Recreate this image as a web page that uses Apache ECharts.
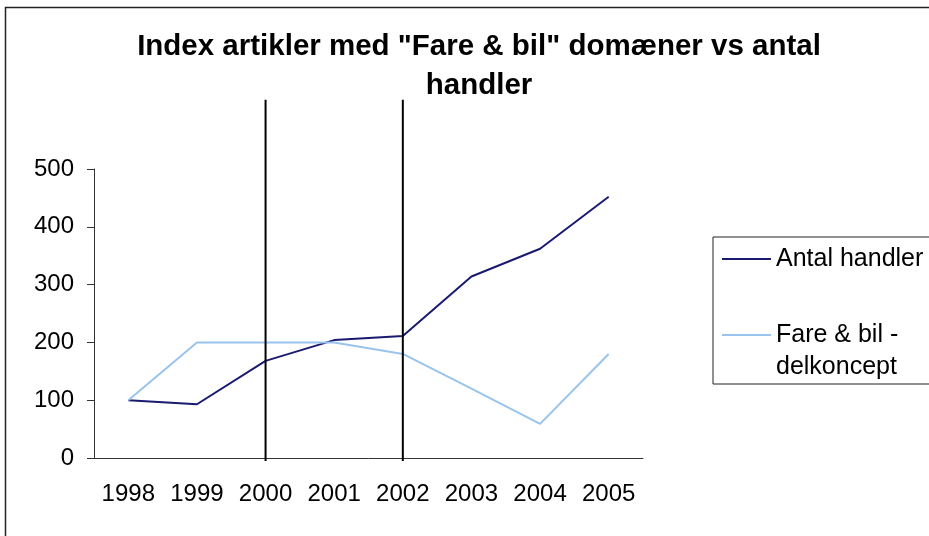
<!DOCTYPE html>
<html>
<head>
<meta charset="utf-8">
<script src="https://cdn.jsdelivr.net/npm/echarts@6/dist/echarts.min.js"></script>
<style>
  html, body { margin: 0; padding: 0; background: #fff; }
  #chart { width: 929px; height: 536px; }
</style>
</head>
<body>
<div id="chart"></div>
<script>
const years = ['1998', '1999', '2000', '2001', '2002', '2003', '2004', '2005']
const antalHandler = [100, 93, 168, 204, 211, 314, 362, 452]
const fareBil = [100, 200, 200, 200, 180, 120, 59, 180]
const yTicks = { min: 0, max: 500, interval: 100 }
// vertical marker lines, they run past the top of the value axis
const markYears = ['2000', '2002']
const markRange = [-5, 620]

const font = "'Liberation Sans', Arial, sans-serif"
const fareName = 'Fare & bil -\ndelkoncept'
const chart = echarts.init(document.getElementById('chart'))

const option = {
  animation: false,
  backgroundColor: '#fff',
  title: {
    text: 'Index artikler med "Fare & bil" domæner vs antal\nhandler',
    left: 474,
    top: 22,
    textAlign: 'center',
    textStyle: { fontFamily: font, fontSize: 29.5, fontWeight: 'bold', color: '#000', lineHeight: 39 }
  },
  legend: {
    orient: 'vertical',
    left: 713,
    top: 237,
    padding: [7, 9, 1, 9],
    itemGap: 13,
    itemWidth: 49,
    itemHeight: 2,
    icon: 'rect',
    borderColor: '#222',
    borderWidth: 1,
    textStyle: { fontFamily: font, fontSize: 25, color: '#000', lineHeight: 30 },
    // blank first line keeps the icon level with "Fare & bil -"
    formatter: name => (name === fareName ? '\n' + name : name),
    data: [
      { name: 'Antal handler' },
      { name: fareName, textStyle: { lineHeight: 32 } }
    ]
  },
  grid: { left: 94, right: 286, top: 169, bottom: 78 },
  xAxis: {
    type: 'category',
    data: years,
    boundaryGap: true,
    axisLine: { lineStyle: { color: '#333', width: 1 } },
    axisTick: { length: 7, lineStyle: { color: '#333' } },
    axisLabel: { fontFamily: font, fontSize: 24, color: '#000', margin: 24, interval: 0 }
  },
  yAxis: {
    type: 'value',
    min: yTicks.min,
    max: yTicks.max,
    interval: yTicks.interval,
    splitLine: { show: false },
    axisLine: { show: true, lineStyle: { color: '#333', width: 1 } },
    axisTick: { show: true, length: 7, lineStyle: { color: '#333' } },
    axisLabel: { fontFamily: font, fontSize: 24, color: '#000', margin: 20 }
  },
  series: [
    {
      name: 'Antal handler',
      type: 'line',
      data: antalHandler,
      symbol: 'none',
      lineStyle: { color: '#1a1a70', width: 2 },
      itemStyle: { color: '#1a1a70' }
    },
    {
      name: fareName,
      type: 'line',
      data: fareBil,
      symbol: 'none',
      lineStyle: { color: '#99c4ee', width: 2 },
      itemStyle: { color: '#99c4ee' }
    }
  ]
}

chart.setOption(option)

// outer frame plus the two vertical lines, placed through the chart's own scales
function drawExtras() {
  const lines = markYears.map(y => {
    const p0 = chart.convertToPixel({ gridIndex: 0 }, [y, markRange[0]])
    const p1 = chart.convertToPixel({ gridIndex: 0 }, [y, markRange[1]])
    return {
      type: 'line',
      silent: true,
      z: 10,
      shape: { x1: p0[0], y1: p0[1], x2: p1[0], y2: p1[1] },
      style: { stroke: '#000', lineWidth: 2 }
    }
  })
  chart.setOption({
    graphic: [
      {
        type: 'rect',
        silent: true,
        shape: { x: 5.5, y: 7.5, width: 1000, height: 1000 },
        style: { fill: 'none', stroke: '#222', lineWidth: 1.5 }
      },
      ...lines
    ]
  })
}
drawExtras()
window.addEventListener('resize', () => { chart.resize(); drawExtras() })
</script>
</body>
</html>
